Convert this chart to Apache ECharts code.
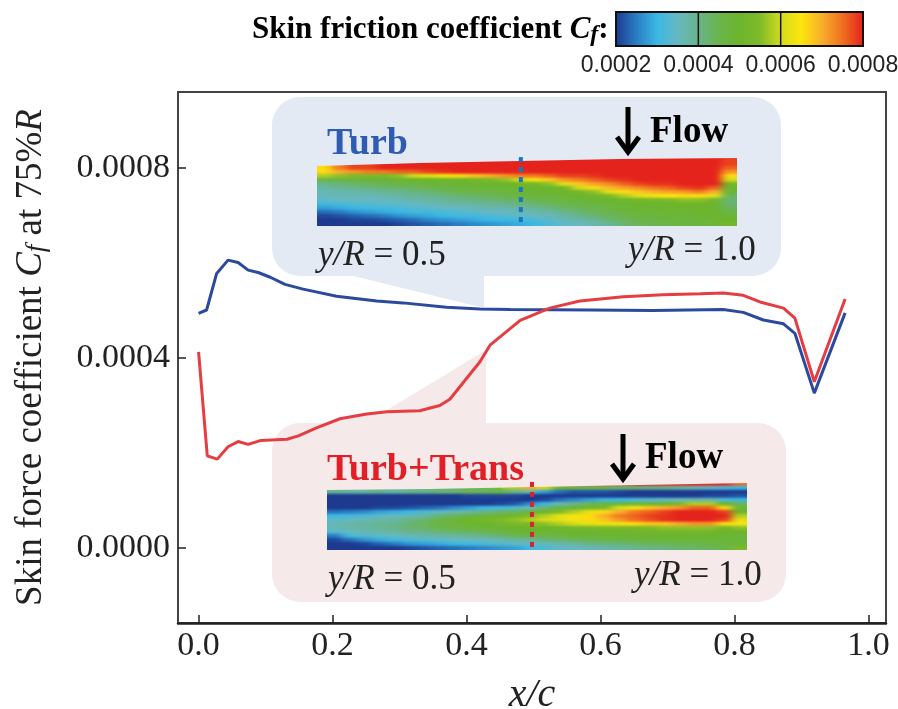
<!DOCTYPE html>
<html lang="en">
<head>
<meta charset="UTF-8">
<title>Skin friction coefficient</title>
<style>
html, body { margin: 0; padding: 0; background: #fff; }
#chart { width: 898px; height: 709px; }
/* the blade maps sit on their own canvas layer (zlevel 1): soften the cells, then cut back to the blade outlines */
#chart canvas[data-zr-dom-id="zr_1"] {
    filter: url(#soften);
    clip-path: path('M317 166L420 163L520 161L620 159L737 158L737 226L317 226Z M327 490L430 489L530 487L640 485L747 483L747 550L327 550Z');
}
</style>
<script src="https://cdn.jsdelivr.net/npm/echarts@6/dist/echarts.min.js"></script>
</head>
<body>
<svg width="0" height="0" style="position:absolute">
    <filter id="soften" color-interpolation-filters="sRGB" x="0" y="0" width="100%" height="100%">
        <feGaussianBlur stdDeviation="4.5 1.1"/>
        <feComponentTransfer><feFuncA type="linear" slope="40"/></feComponentTransfer>
    </filter>
</svg>
<div id="chart"></div>
<script>
// curves at 75%R, [x/c, Cf]
var turbCurve = [[0.0,0.000494],[0.012,0.000501],[0.027,0.000578],[0.044,0.000606],[0.059,0.000601],[0.074,0.000585],[0.089,0.00058],[0.107,0.00057],[0.129,0.000555],[0.156,0.000545],[0.206,0.00053],[0.266,0.00052],[0.305,0.000516],[0.37,0.000507],[0.42,0.000503],[0.465,0.000502],[0.584,0.000501],[0.678,0.0005],[0.783,0.000502],[0.813,0.000496],[0.843,0.00048],[0.873,0.000472],[0.89,0.000452],[0.919,0.000326],[0.965,0.000495]];
var transCurve = [[0.0,0.000413],[0.013,0.000194],[0.028,0.000187],[0.044,0.000213],[0.059,0.000224],[0.074,0.000218],[0.092,0.000226],[0.132,0.000229],[0.149,0.000236],[0.176,0.000253],[0.211,0.000272],[0.251,0.000282],[0.281,0.000287],[0.33,0.000289],[0.36,0.0003],[0.375,0.000313],[0.42,0.000392],[0.435,0.000427],[0.48,0.000479],[0.524,0.000505],[0.569,0.00052],[0.634,0.000529],[0.693,0.000533],[0.749,0.000535],[0.783,0.000537],[0.813,0.000532],[0.838,0.000518],[0.873,0.000505],[0.89,0.000484],[0.919,0.00035],[0.965,0.000524]];

// dotted section markers on the two blade maps
var turbSection = [[0.481,0.000823],[0.481,0.000678]];
var transSection = [[0.4976,0.000139],[0.4976,-0.000004]];

var xTicks = [0, 0.2, 0.4, 0.6, 0.8, 1.0];
var yTicks = [0, 0.0004, 0.0008];
var barTicks = ['0.0002', '0.0004', '0.0006', '0.0008'];

// blade maps, Cf in 1e-5 units. one list per spanwise column, leading edge first
var turbCols = [
    [null,null,66,66,58,45,40,38,36,36,34,31,28,24,21,20,20],
    [null,null,74,70,56,46,42,39,37,36,35,32,29,25,22,20,20],
    [null,null,78,72,55,47,43,40,37,36,35,33,30,27,23,21,20],
    [null,null,78,74,54,48,44,41,38,36,35,33,31,28,24,21,20],
    [null,null,80,74,54,48,45,42,39,37,35,34,31,29,25,22,20],
    [null,null,80,76,56,49,46,43,40,38,36,34,32,30,27,23,21],
    [null,80,80,76,60,50,47,44,41,39,37,35,33,31,28,24,22],
    [null,80,80,78,62,50,48,45,42,40,38,36,34,31,29,26,23],
    [null,80,80,79,64,51,48,46,44,41,39,37,35,32,30,27,24],
    [null,80,80,80,66,51,49,47,45,42,40,38,35,33,31,28,25],
    [null,80,80,80,68,52,49,48,46,43,41,38,36,34,31,29,26],
    [null,80,80,80,70,54,50,48,46,44,42,39,37,35,32,30,27],
    [null,80,80,80,72,56,50,49,47,45,43,40,37,35,33,30,28],
    [null,80,80,80,74,60,50,49,48,46,44,41,38,36,34,31,29],
    [80,80,80,80,74,64,52,50,49,47,45,42,39,37,35,32,30],
    [80,80,80,80,76,68,56,50,49,48,46,44,41,38,36,34,32],
    [80,80,80,80,78,72,62,52,50,49,47,45,43,40,38,36,34],
    [80,80,80,80,78,74,68,60,52,50,48,46,44,42,40,37,35],
    [80,80,80,80,79,76,71,66,56,51,49,47,45,44,42,39,37],
    [80,80,80,80,80,78,73,69,62,54,50,48,47,45,44,42,39],
    [80,80,80,80,80,79,76,71,66,58,51,49,48,47,45,44,42],
    [80,80,80,80,80,80,78,73,68,62,52,50,49,48,47,46,44],
    [80,80,80,80,80,80,79,75,70,64,54,50,49,48,47,46,45],
    [80,80,80,80,80,80,79,76,71,65,55,50,50,49,48,47,46],
    [80,80,80,80,80,80,80,78,72,66,56,50,50,49,48,47,47],
    [80,80,80,80,80,80,80,79,74,66,56,50,50,50,49,48,47],
    [80,80,80,80,80,80,80,76,70,62,52,50,50,50,49,49,48],
    [78,78,76,72,66,60,52,50,48,44,42,42,44,46,48,50,52]
];
var transCols = [
    [null,null,40,20,20,20,20,24,30,34,36,36,33,25,21,20,20],
    [null,null,38,20,20,20,20,25,31,35,37,37,35,31,24,20,20],
    [null,null,38,20,20,20,20,26,32,36,38,38,36,33,27,21,20],
    [null,null,40,20,20,20,21,28,34,37,39,39,37,34,29,23,20],
    [null,null,38,20,20,20,21,29,35,38,40,40,38,35,31,25,20],
    [null,null,40,20,20,20,22,30,36,40,42,42,40,36,32,27,21],
    [null,null,40,20,20,20,23,32,38,42,44,43,40,37,33,28,22],
    [null,null,42,20,20,20,24,34,42,45,46,45,42,37,34,29,23],
    [null,null,42,20,20,20,26,36,44,48,48,46,43,38,35,30,24],
    [null,null,44,21,20,20,28,38,46,50,50,47,44,39,35,31,25],
    [null,null,44,21,20,20,30,40,48,52,50,48,45,40,36,32,26],
    [null,null,46,21,20,21,31,42,50,54,52,49,46,42,37,33,27],
    [null,58,40,21,20,22,32,44,52,56,54,50,48,44,38,34,28],
    [null,70,36,20,20,26,36,46,55,58,55,50,49,45,39,35,30],
    [null,60,28,20,21,30,42,50,58,60,56,50,49,46,41,36,32],
    [70,48,24,20,24,36,46,54,62,62,58,51,49,47,42,37,34],
    [75,45,22,20,26,40,48,58,64,64,60,52,50,48,44,38,35],
    [76,44,22,20,28,44,52,62,66,66,62,53,50,48,45,40,36],
    [78,44,22,20,30,46,54,66,70,68,63,54,50,49,46,41,37],
    [78,42,21,20,30,47,60,70,74,72,64,54,50,49,46,42,38],
    [80,42,20,20,32,48,64,74,76,75,66,54,51,49,47,43,39],
    [80,40,20,20,33,48,68,76,78,77,68,55,51,49,47,44,40],
    [80,40,20,20,34,50,70,78,79,79,68,56,51,50,48,44,41],
    [80,38,20,20,35,54,72,80,80,80,70,56,51,50,48,45,42],
    [80,36,20,20,36,58,76,80,80,80,72,56,52,50,48,45,43],
    [80,34,20,21,36,58,76,80,80,80,72,56,51,50,48,46,44],
    [80,32,20,21,32,50,66,78,80,78,66,52,50,49,48,47,46],
    [75,30,20,22,30,44,48,50,58,62,64,56,50,48,47,48,54]
];
var spanCats = turbCols.map(function (c, i) { return i; });
var chordCats = turbCols[0].map(function (c, i) { return i; });

// colours picked off the colour bar, evenly spaced from 0.0002 to 0.0008
var barColors = ['#1d3a8f','#2a7dc4','#3ab8e4','#66b8c0','#68b48c','#6ab54c','#6cb52c','#7fba2a','#d2dc1c','#fde60c','#f8ae2c','#f0701f','#e5231d'];

var serif = '"Liberation Serif", serif';

function cells(cols) {
    var out = [];
    cols.forEach(function (col, i) {
        col.forEach(function (v, j) {
            if (v !== null) out.push([i, j, v]);
        });
    });
    return out;
}

function heatAxis(gridIndex, cats, inverse) {
    return { type: 'category', gridIndex: gridIndex, data: cats, show: false, inverse: inverse };
}

function txt(x, y, text, size, color, opts) {
    opts = opts || {};
    return {
        type: 'text', x: x, y: y, z: 20,
        style: {
            text: text, fill: color, font: (opts.font || '') + ' ' + size + 'px ' + (opts.family || serif),
            align: opts.align || 'left', verticalAlign: 'middle', rich: opts.rich
        }
    };
}

function arrow(x, y1, y2) {
    return [
        { type: 'line', z: 20, shape: { x1: x, y1: y1, x2: x, y2: y2 - 4 }, style: { stroke: '#000', lineWidth: 5 } },
        { type: 'polyline', z: 20, shape: { points: [[x - 11, y2 - 17], [x, y2 - 2], [x + 11, y2 - 17]] }, style: { stroke: '#000', fill: null, lineWidth: 5 } }
    ];
}

function yrText(x, y, val) {
    return txt(x, y, '{i|y/R} = ' + val, 35, '#222', { rich: { i: { font: 'italic 35px ' + serif, fill: '#222' } } });
}

var graphics = [
    { type: 'rect', z: 0, shape: { x: 272, y: 97, width: 509, height: 179, r: 28 }, style: { fill: '#e3eaf4' } },
    { type: 'polygon', z: 0, shape: { points: [[345, 274], [484, 308], [484, 274]] }, style: { fill: '#e3eaf4' } },
    { type: 'rect', z: 0, shape: { x: 272, y: 423, width: 514, height: 179, r: 28 }, style: { fill: '#f6e9e9' } },
    { type: 'polygon', z: 0, shape: { points: [[285, 432], [387, 410], [486, 350], [486, 430]] }, style: { fill: '#f6e9e9' } },
    txt(327, 144, 'Turb', 38, '#2f5bb0', { font: 'bold' }),
    txt(650, 132, 'Flow', 37, '#000', { font: 'bold' }),
    txt(327, 470, 'Turb+Trans', 38, '#e01f26', { font: 'bold' }),
    txt(645, 458, 'Flow', 37, '#000', { font: 'bold' }),
    yrText(318, 256, '0.5'),
    yrText(628, 251, '1.0'),
    yrText(328, 580, '0.5'),
    yrText(634, 576, '1.0'),
    txt(252, 30, 'Skin friction coefficient {c|C}{f|f}:', 31, '#000', {
        font: 'bold',
        rich: {
            c: { font: 'bold italic 31px ' + serif, fill: '#000' },
            f: { font: 'bold italic 24px ' + serif, fill: '#000', padding: [10, 0, 0, 0] }
        }
    }),
    { type: 'rect', z: 20, shape: { x: 616, y: 12, width: 247, height: 34 }, style: { fill: null, stroke: '#111', lineWidth: 2 } }
].concat(arrow(628, 107, 154), arrow(623, 434, 481));

// colour bar ticks and labels
barTicks.forEach(function (t, i) {
    var x = 616 + i * 247 / 3;
    if (i > 0 && i < 3) {
        graphics.push({ type: 'line', z: 20, shape: { x1: x, y1: 12, x2: x, y2: 46 }, style: { stroke: '#111', lineWidth: 1.5 } });
    }
    graphics.push(txt(x, 66, t, 23, '#222', { align: 'center', family: '"Liberation Sans", sans-serif' }));
});

var myChart = echarts.init(document.getElementById('chart'), null, { renderer: 'canvas' });
myChart.setOption({
    animation: false,
    backgroundColor: '#fff',
    grid: [
        { left: 178, top: 92, width: 708, height: 531, show: true, borderColor: '#444', borderWidth: 2, outerBoundsMode: 'none' },
        { left: 317, top: 158, width: 420, height: 68, outerBoundsMode: 'none' },
        { left: 327, top: 482, width: 420, height: 68, outerBoundsMode: 'none' }
    ],
    xAxis: [
        {
            type: 'value', gridIndex: 0, min: -0.0307, max: 1.026,
            name: 'x/c', nameLocation: 'middle', nameGap: 52,
            nameTextStyle: { fontFamily: serif, fontStyle: 'italic', fontSize: 40, color: '#222' },
            axisLine: { onZero: false, lineStyle: { color: '#222', width: 2.5 } },
            axisTick: { inside: true, length: 8, customValues: xTicks, lineStyle: { color: '#222', width: 1.5 } },
            axisLabel: {
                customValues: xTicks, margin: 6, fontFamily: serif, fontSize: 34, color: '#222',
                formatter: function (v) { return v.toFixed(1); }
            },
            splitLine: { show: false }
        },
        heatAxis(1, spanCats, false),
        heatAxis(2, spanCats, false)
    ],
    yAxis: [
        {
            type: 'value', gridIndex: 0, min: -0.000158, max: 0.00096,
            name: 'Skin force coefficient {i|C}{s|f} at 75%{i|R}', nameLocation: 'middle', nameRotate: 90, nameGap: 128,
            nameTextStyle: {
                fontFamily: serif, fontSize: 37, color: '#222',
                rich: {
                    i: { fontFamily: serif, fontStyle: 'italic', fontSize: 37, color: '#222' },
                    s: { fontFamily: serif, fontStyle: 'italic', fontSize: 27, color: '#222', padding: [10, 0, 0, 0] }
                }
            },
            axisLine: { onZero: false, lineStyle: { color: '#444', width: 2 } },
            axisTick: { inside: true, length: 8, customValues: yTicks, lineStyle: { color: '#222', width: 1.5 } },
            axisLabel: {
                customValues: yTicks, margin: 8, fontFamily: serif, fontSize: 34, color: '#222',
                formatter: function (v) { return v.toFixed(4); }
            },
            splitLine: { show: false }
        },
        heatAxis(1, chordCats, true),
        heatAxis(2, chordCats, true)
    ],
    visualMap: {
        type: 'continuous', seriesIndex: [0, 1], dimension: 2, min: 20, max: 80,
        orient: 'horizontal', left: 616, top: 12, itemWidth: 34, itemHeight: 247, padding: 0,
        calculable: false, hoverLink: false, text: null, showLabel: false,
        inRange: { color: barColors }
    },
    series: [
        { type: 'heatmap', xAxisIndex: 1, yAxisIndex: 1, data: cells(turbCols), zlevel: 1 },
        { type: 'heatmap', xAxisIndex: 2, yAxisIndex: 2, data: cells(transCols), zlevel: 1 },
        { type: 'line', name: 'Turb', data: turbCurve, showSymbol: false, z: 4, lineStyle: { color: '#2b4a9e', width: 3 } },
        { type: 'line', name: 'Turb+Trans', data: transCurve, showSymbol: false, z: 5, lineStyle: { color: '#e43d42', width: 3 } },
        { type: 'line', data: turbSection, showSymbol: false, zlevel: 2, lineStyle: { color: '#1b75bc', width: 4, type: [5, 5] } },
        { type: 'line', data: transSection, showSymbol: false, zlevel: 2, lineStyle: { color: '#d9232e', width: 4, type: [5, 5] } }
    ],
    graphic: graphics
});
</script>
</body>
</html>
